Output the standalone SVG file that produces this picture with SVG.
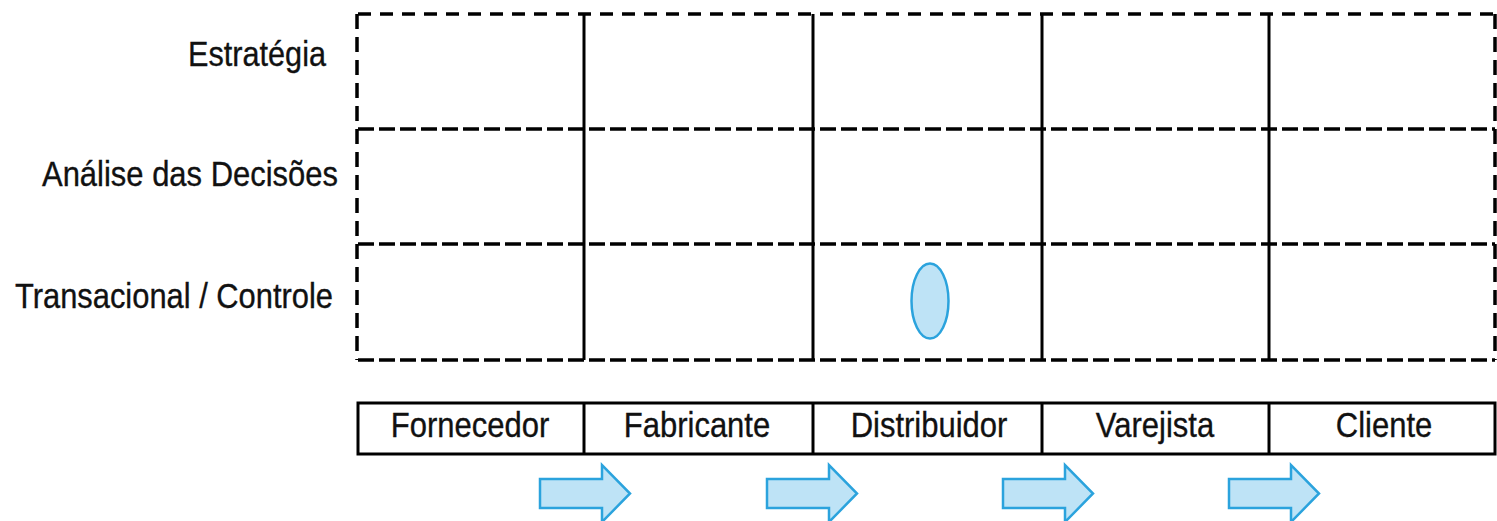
<svg xmlns="http://www.w3.org/2000/svg" width="1497" height="521" viewBox="0 0 1497 521">
<style>
.lbl{font-family:"Liberation Sans",Arial,sans-serif;font-size:31px;fill:#111;stroke:#111;stroke-width:0.3}
.dash{stroke:#000;stroke-width:3.5;fill:none}
.solid{stroke:#000;stroke-width:3;fill:none}
.blue{fill:#BEE3F6;stroke:#2BA3DD;stroke-width:2.5}
</style>
<defs>
<path id="arr" d="M0,-14.5 L62,-14.5 L62,-28.5 L90,0 L62,28.5 L62,14.5 L0,14.5 Z"/>
</defs>
<rect width="1497" height="521" fill="#fff"/>
<g id="grid">
<line class="dash" x1="358" y1="14" x2="1495" y2="14" stroke-dasharray="13 9"/>
<line class="dash" x1="358" y1="129" x2="1495" y2="129" stroke-dasharray="16 5"/>
<line class="dash" x1="358" y1="244" x2="1495" y2="244" stroke-dasharray="16 5"/>
<line class="dash" x1="358" y1="360" x2="1495" y2="360" stroke-dasharray="16 5"/>
<line class="dash" x1="357" y1="14" x2="357" y2="360" stroke-dasharray="15 8"/>
<line class="dash" x1="1495" y1="14" x2="1495" y2="360" stroke-dasharray="15 8" stroke="#777"/>
<line class="solid" x1="584" y1="14" x2="584" y2="360"/>
<line class="solid" x1="813" y1="14" x2="813" y2="360"/>
<line class="solid" x1="1042" y1="14" x2="1042" y2="360"/>
<line class="solid" x1="1269" y1="14" x2="1269" y2="360"/>
</g>
<g id="row-labels">
<text class="lbl" transform="translate(188,66) scale(1,1.13)" textLength="138" lengthAdjust="spacingAndGlyphs">Estratégia</text>
<text class="lbl" transform="translate(42,186) scale(1,1.13)" textLength="296" lengthAdjust="spacingAndGlyphs">Análise das Decisões</text>
<text class="lbl" transform="translate(15,308) scale(1,1.13)" textLength="318" lengthAdjust="spacingAndGlyphs">Transacional / Controle</text>
</g>
<g id="ellipse-node">
<ellipse class="blue" cx="930" cy="301" rx="18.5" ry="37.5"/>
</g>
<g id="chain">
<rect class="solid" x="358" y="403" width="1137" height="51"/>
<line class="solid" x1="584" y1="403" x2="584" y2="454"/>
<line class="solid" x1="813" y1="403" x2="813" y2="454"/>
<line class="solid" x1="1042" y1="403" x2="1042" y2="454"/>
<line class="solid" x1="1269" y1="403" x2="1269" y2="454"/>
<g id="n-fornecedor"><text class="lbl" text-anchor="middle" transform="translate(470,437) scale(1,1.13)">Fornecedor</text></g>
<g id="n-fabricante"><text class="lbl" text-anchor="middle" transform="translate(697,437) scale(1,1.13)">Fabricante</text></g>
<g id="n-distribuidor"><text class="lbl" text-anchor="middle" transform="translate(929,437) scale(1,1.13)">Distribuidor</text></g>
<g id="n-varejista"><text class="lbl" text-anchor="middle" transform="translate(1155,437) scale(1,1.13)">Varejista</text></g>
<g id="n-cliente"><text class="lbl" text-anchor="middle" transform="translate(1384,437) scale(1,1.13)">Cliente</text></g>
</g>
<g id="connectors">
<use href="#arr" class="blue" x="540" y="493.5"/>
<use href="#arr" class="blue" x="767" y="493.5"/>
<use href="#arr" class="blue" x="1003" y="493.5"/>
<use href="#arr" class="blue" x="1229" y="493.5"/>
</g>
</svg>
